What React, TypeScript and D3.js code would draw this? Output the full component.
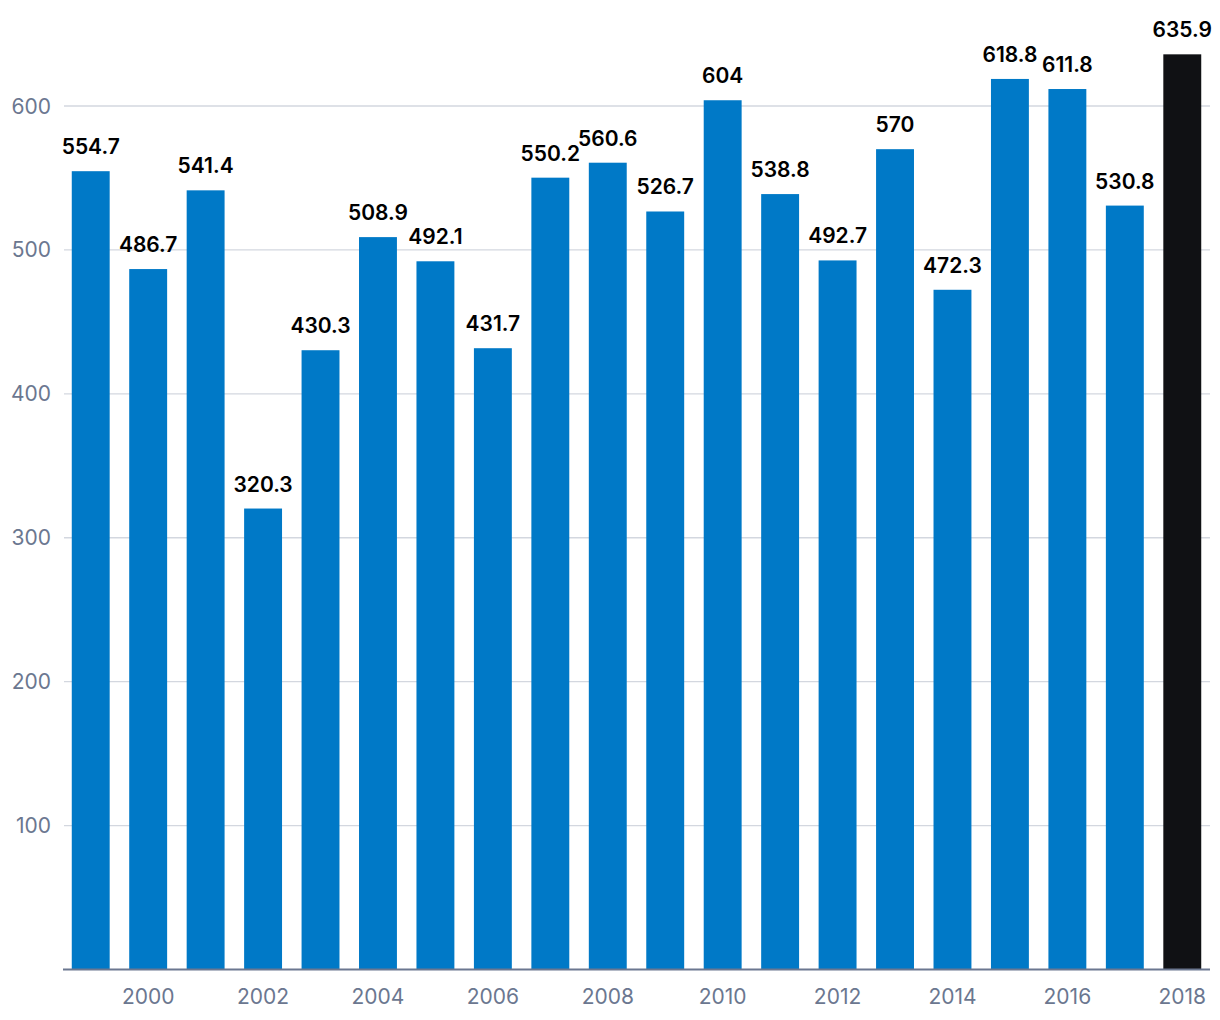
import React from "react";
import * as d3 from "d3";

const years = ["1999","2000","2001","2002","2003","2004","2005","2006","2007","2008","2009","2010","2011","2012","2013","2014","2015","2016","2017","2018"];
const values = [554.7,486.7,541.4,320.3,430.3,508.9,492.1,431.7,550.2,560.6,526.7,604,538.8,492.7,570,472.3,618.8,611.8,530.8,635.9];
const yTicks = [100,200,300,400,500,600];
const xTickLabels = ["2000","2002","2004","2006","2008","2010","2012","2014","2016","2018"];

const W = 1220, H = 1020;
const left = 62, right = 1211, baseY = 969.5, topY = 106;

export default function App() {
  const x = d3.scaleBand().domain(years).range([left, right]).paddingInner(0.34).paddingOuter(0.17);
  const y = d3.scaleLinear().domain([0, 600]).range([baseY, topY]);
  const font = "Inter, 'Noto Sans', sans-serif";
  return (
    <svg width={W} height={H} style={{ position: "absolute", left: 0, top: 0, background: "#fff" }}>
      {yTicks.map(t => (
        <g key={t}>
          <line x1={64} x2={1210} y1={y(t)} y2={y(t)} stroke="#d3d7df" strokeWidth={1.3} />
          <text x={51} y={y(t)} dy="0.36em" textAnchor="end" fontFamily={font} fontSize={21} fill="#6b7790">{t}</text>
        </g>
      ))}
      {years.map((yr, i) => (
        <g key={yr}>
          <rect x={x(yr)} y={y(values[i])} width={x.bandwidth()} height={baseY - y(values[i])} fill={yr === "2018" ? "#101114" : "#0079c7"} />
          <text x={(x(yr) as number) + x.bandwidth() / 2} y={y(values[i]) - 17} textAnchor="middle" fontFamily={font} fontSize={21} fontWeight={600} fill="#000">{String(values[i])}</text>
        </g>
      ))}
      <line x1={63} x2={1210} y1={baseY} y2={baseY} stroke="#6b7790" strokeWidth={2} />
      {xTickLabels.map(t => (
        <text key={t} x={(x(t) as number) + x.bandwidth() / 2} y={996} dy="0.36em" textAnchor="middle" fontFamily={font} fontSize={21} fill="#6b7790">{t}</text>
      ))}
    </svg>
  );
}
